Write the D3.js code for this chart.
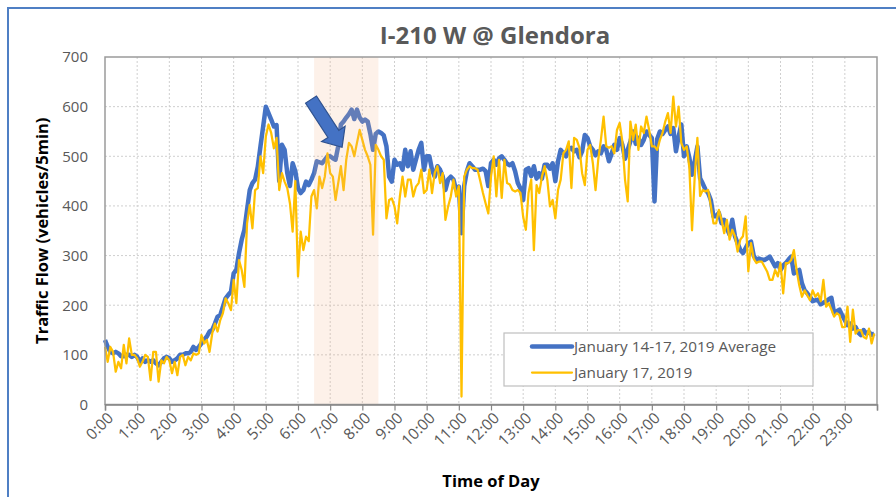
<!DOCTYPE html>
<html>
<head>
<meta charset="utf-8">
<script src="https://cdn.jsdelivr.net/npm/d3@7"></script>
<style>
  body { margin: 0; background: #fff; }
  svg { display: block; font-family: "Open Sans", "Noto Sans", sans-serif; }
</style>
</head>
<body>
<svg id="chart" width="896" height="497"></svg>
<script>
// 5-minute counts, 0:00 .. 23:55 (288 values each)
const hourLabels = d3.range(24).map(h => `${h}:00`);
const yTicks = [0, 100, 200, 300, 400, 500, 600, 700];
const seriesNames = ['January 14-17, 2019 Average', 'January 17, 2019'];
const highlightHours = [6.5, 8.5];

const avgFlow = [
  130,116,106,103,106,103,97,97,100,100,96,100,
  96,86,93,86,89,86,89,83,79,86,93,96,
  93,86,89,93,100,100,103,103,106,116,110,116,
  123,130,137,147,150,163,177,180,197,214,221,227,
  264,271,305,332,352,392,432,446,453,479,520,560,
  600,587,574,560,563,450,523,513,466,440,486,470,
  436,426,432,449,442,453,466,490,488,486,493,500,
  500,496,493,520,564,570,578,585,594,575,594,578,
  570,574,570,545,513,545,550,547,542,520,459,449,
  493,483,486,473,513,480,510,473,493,513,527,473,
  500,500,473,459,480,473,459,432,453,459,453,432,
  439,345,440,470,486,480,473,473,473,475,470,440,
  486,493,483,496,500,493,485,482,486,470,446,435,
  412,473,476,460,480,455,466,455,483,483,475,486,
  450,490,513,506,500,515,517,510,513,498,510,543,
  537,520,513,502,510,506,520,513,490,505,523,513,
  537,523,495,513,530,550,525,537,523,533,550,543,
  537,409,535,550,545,553,560,545,557,510,540,564,
  500,520,497,463,490,520,456,445,433,426,412,379,
  379,386,365,372,355,342,372,339,325,311,305,315,
  325,328,300,291,294,292,291,294,298,288,278,285,
  271,280,285,292,298,264,268,271,244,230,224,217,
  208,210,211,202,205,208,212,215,184,188,191,180,
  170,160,163,153,156,145,140,150,143,146,140,143
];

const jan17Flow = [
  116,86,116,106,66,86,73,120,83,133,100,100,
  93,76,86,100,96,49,106,106,46,89,83,96,
  89,63,86,59,96,100,79,96,89,103,100,103,
  140,123,130,106,143,163,147,170,184,214,204,190,
  251,204,291,271,237,365,402,355,432,436,500,466,
  540,564,547,516,537,432,466,449,436,405,348,450,
  258,348,311,338,329,419,432,395,459,436,459,506,
  466,459,412,446,480,432,493,527,520,500,527,553,
  533,513,500,483,342,523,513,500,493,375,412,415,
  399,365,419,459,419,453,453,419,439,446,473,426,
  432,473,426,466,480,446,466,372,399,419,453,419,
  440,16,459,473,480,476,476,473,450,426,405,385,
  459,500,419,493,416,493,446,443,432,429,432,426,
  378,352,426,453,311,442,426,459,480,453,399,412,
  375,432,453,506,513,530,436,537,533,517,466,442,
  513,523,486,432,493,533,580,520,517,520,506,553,
  567,530,453,409,570,533,564,513,560,547,580,553,
  520,520,513,533,547,570,587,547,620,560,600,527,
  513,520,477,351,459,537,420,432,429,432,401,365,
  365,392,372,345,372,332,352,339,308,332,339,379,
  268,325,294,285,288,288,278,268,251,251,271,258,
  285,224,285,285,291,311,271,240,217,230,220,210,
  230,217,224,208,251,197,204,191,177,184,180,156,
  156,197,126,191,143,150,150,136,133,153,123,143
];

const W = 896, H = 497;
const margin = { left: 105, right: 19, top: 57, bottom: 92.5 };
const svg = d3.select('#chart');

const x = d3.scaleLinear().domain([0, 24]).range([margin.left, W - margin.right]);
const y = d3.scaleLinear().domain([0, 700]).range([H - margin.bottom, margin.top]);

const toPoints = (arr) => arr.map((v, i) => ({ t: i * 5 / 60, v }));

// outer frame (only top and left edges show)
svg.append('path')
  .attr('d', `M8,${H + 5}V8H${W + 5}`)
  .attr('fill', 'none')
  .attr('stroke', '#4f7fc4')
  .attr('stroke-width', 2);

// title
svg.append('text')
  .attr('x', 495).attr('y', 44)
  .attr('text-anchor', 'middle')
  .attr('font-size', 24).attr('font-weight', 700)
  .attr('fill', '#595959')
  .text('I-210 W @ Glendora');

// gridlines
const grid = svg.append('g').attr('stroke', '#cfcfcf').attr('stroke-dasharray', '2,2').attr('stroke-width', 1);
grid.selectAll('line.h').data(yTicks.slice(1, -1)).join('line')
  .attr('x1', x(0)).attr('x2', x(24))
  .attr('y1', d => y(d)).attr('y2', d => y(d));
grid.selectAll('line.v').data(d3.range(1, 24)).join('line')
  .attr('x1', d => x(d)).attr('x2', d => x(d))
  .attr('y1', y(700)).attr('y2', y(0));

// lines
const line = d3.line().x(d => x(d.t)).y(d => y(d.v));
svg.append('path')
  .datum(toPoints(avgFlow))
  .attr('d', line)
  .attr('fill', 'none')
  .attr('stroke', '#4472c4')
  .attr('stroke-width', 4.5)
  .attr('stroke-linejoin', 'round');
svg.append('path')
  .datum(toPoints(jan17Flow))
  .attr('d', line)
  .attr('fill', 'none')
  .attr('stroke', '#ffc000')
  .attr('stroke-width', 2.25)
  .attr('stroke-linejoin', 'round');

// highlighted window drawn over the lines, semi-transparent
svg.append('rect')
  .attr('x', x(highlightHours[0]))
  .attr('width', x(highlightHours[1]) - x(highlightHours[0]))
  .attr('y', y(700))
  .attr('height', y(0) - y(700))
  .attr('fill', '#f4b183')
  .attr('fill-opacity', 0.18);

// plot border
svg.append('rect')
  .attr('x', x(0)).attr('y', y(700))
  .attr('width', x(24) - x(0)).attr('height', y(0) - y(700))
  .attr('fill', 'none')
  .attr('stroke', '#9a9a9a')
  .attr('stroke-width', 1.5);

// x axis
const xAxis = svg.append('g')
  .attr('transform', `translate(0,${y(0)})`)
  .call(d3.axisBottom(x).tickValues(d3.range(0, 25)).tickSize(6).tickFormat(d => d < 24 ? hourLabels[d] : ''));
xAxis.select('.domain').attr('stroke', '#868686').attr('stroke-width', 1.5);
xAxis.selectAll('.tick line').attr('stroke', '#868686').attr('stroke-width', 1.2);
xAxis.selectAll('.tick text')
  .attr('fill', '#595959')
  .attr('font-size', 15.5)
  .attr('font-family', '"Open Sans", sans-serif')
  .attr('text-anchor', 'end')
  .attr('x', -4).attr('y', 11)
  .attr('dy', '0.35em')
  .attr('transform', 'rotate(-45)');

// y axis
const yAxis = svg.append('g')
  .attr('transform', `translate(${x(0)},0)`)
  .call(d3.axisLeft(y).tickValues(yTicks).tickSize(0).tickPadding(17));
yAxis.select('.domain').remove();
yAxis.selectAll('.tick text')
  .attr('fill', '#595959')
  .attr('font-size', 15)
  .attr('font-family', '"Open Sans", sans-serif');

// axis titles
svg.append('text')
  .attr('x', 491).attr('y', 487)
  .attr('text-anchor', 'middle')
  .attr('font-size', 16.5).attr('font-weight', 700)
  .attr('fill', '#000')
  .text('Time of Day');
svg.append('text')
  .attr('transform', `translate(48,${(y(0) + y(700)) / 2}) rotate(-90)`)
  .attr('text-anchor', 'middle')
  .attr('font-size', 16.5).attr('font-weight', 700)
  .attr('fill', '#000')
  .text('Traffic Flow (vehicles/5min)');

// legend
const legend = svg.append('g').attr('transform', 'translate(504,333)');
legend.append('rect')
  .attr('width', 309).attr('height', 53)
  .attr('fill', '#fff')
  .attr('stroke', '#bfbfbf')
  .attr('stroke-width', 1.2);
const swatches = [
  { color: '#4472c4', width: 4.5 },
  { color: '#ffc000', width: 2.25 }
];
seriesNames.forEach((name, i) => {
  const row = legend.append('g').attr('transform', `translate(0,${13.5 + i * 26})`);
  row.append('line')
    .attr('x1', 28).attr('x2', 68)
    .attr('stroke', swatches[i].color)
    .attr('stroke-width', swatches[i].width)
    .attr('stroke-linecap', 'round');
  row.append('text')
    .attr('x', 70).attr('dy', '0.36em')
    .attr('font-size', 15.3)
    .attr('fill', '#595959')
    .text(name);
});

// callout arrow pointing at the morning peak
const tip = [x(7.37), y(518)];
svg.append('path')
  .attr('d', 'M0,0L-16,-14L-16,-6.5L-57,-6.5L-57,6.5L-16,6.5L-16,14Z')
  .attr('transform', `translate(${tip[0]},${tip[1]}) rotate(57)`)
  .attr('fill', '#4472c4')
  .attr('stroke', '#2f528f')
  .attr('stroke-width', 1.2)
  .attr('stroke-linejoin', 'miter');
</script>
</body>
</html>
